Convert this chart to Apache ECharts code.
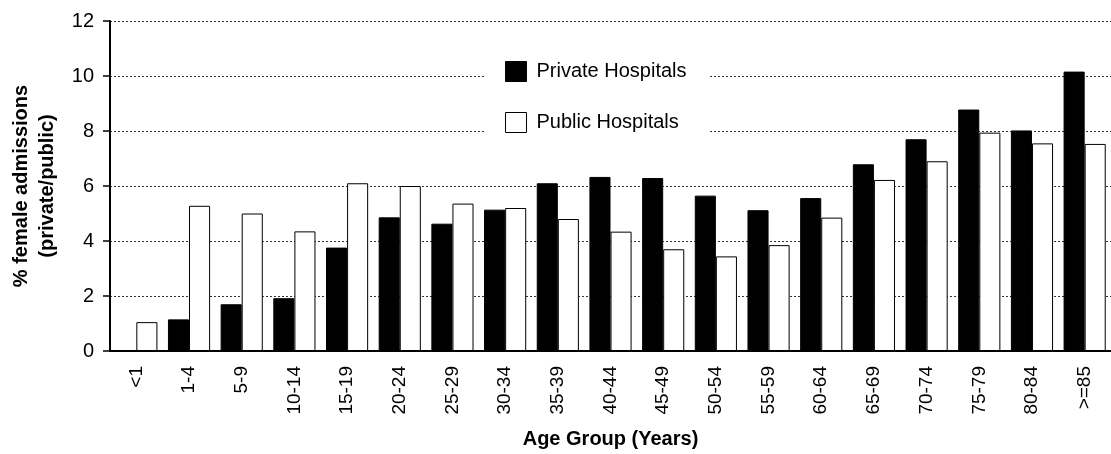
<!DOCTYPE html>
<html>
<head>
<meta charset="utf-8">
<title>Female admissions by age group</title>
<script src="https://cdn.jsdelivr.net/npm/echarts@6/dist/echarts.min.js"></script>
<style>
  html, body { margin: 0; padding: 0; background: #fff; }
  #chart { width: 1111px; height: 454px; }
</style>
</head>
<body>
<div id="chart"></div>
<script>
// 数据
const ageGroups = ['<1', '1-4', '5-9', '10-14', '15-19', '20-24', '25-29', '30-34', '35-39',
  '40-44', '45-49', '50-54', '55-59', '60-64', '65-69', '70-74', '75-79', '80-84', '>=85']
const privateValues = [0, 1.15, 1.7, 1.92, 3.76, 4.86, 4.63, 5.14, 6.1,
  6.33, 6.29, 5.65, 5.12, 5.56, 6.79, 7.7, 8.78, 8.02, 10.16]
const publicValues = [1.05, 5.28, 5.0, 4.35, 6.1, 6.0, 5.36, 5.2, 4.8,
  4.34, 3.7, 3.44, 3.85, 4.85, 6.22, 6.9, 7.94, 7.55, 7.53]
const yTicks = [0, 2, 4, 6, 8, 10, 12]

const font = 'Liberation Sans, Arial, sans-serif'

const chart = echarts.init(document.getElementById('chart'))

chart.setOption({
  animation: false,
  backgroundColor: '#fff',
  textStyle: { fontFamily: font },
  legend: {
    orient: 'vertical',
    left: 486,
    top: 47,
    padding: [14, 22, 14, 19],
    backgroundColor: '#fff',
    itemWidth: 21,
    itemHeight: 20,
    itemGap: 30,
    icon: 'rect',
    textStyle: { fontSize: 20, color: '#000', fontFamily: font, padding: [0, 0, 0, 5] },
    data: [
      { name: 'Private Hospitals', itemStyle: { color: '#000', borderColor: '#000', borderWidth: 1 } },
      { name: 'Public Hospitals', itemStyle: { color: '#fff', borderColor: '#000', borderWidth: 1 } }
    ]
  },
  // 右侧超出画布一点，最后一根柱子被截断
  grid: { left: 108, top: 21, width: 1018, height: 330 },
  xAxis: {
    type: 'category',
    data: ageGroups,
    name: 'Age Group (Years)',
    nameLocation: 'middle',
    nameGap: 78,
    nameTextStyle: { fontSize: 20, fontWeight: 'bold', color: '#000', fontFamily: font },
    axisLine: { lineStyle: { color: '#000', width: 2 } },
    axisTick: { show: false },
    axisLabel: { rotate: 90, fontSize: 19, color: '#000', margin: 15, interval: 0, fontFamily: font }
  },
  yAxis: {
    type: 'value',
    min: yTicks[0],
    max: yTicks[yTicks.length - 1],
    interval: 2,
    name: '% female admissions\n(private/public)',
    nameLocation: 'middle',
    nameGap: 50,
    nameTextStyle: { fontSize: 20, fontWeight: 'bold', color: '#000', lineHeight: 26, fontFamily: font },
    axisLine: { show: true, lineStyle: { color: '#000', width: 2 } },
    axisTick: { show: true, length: 7, lineStyle: { color: '#000', width: 1.5 } },
    axisLabel: { fontSize: 20, color: '#000', margin: 16, fontFamily: font },
    splitLine: { lineStyle: { color: '#333', type: [2, 2], width: 1 } }
  },
  series: [
    {
      name: 'Private Hospitals',
      type: 'bar',
      data: privateValues,
      barGap: '0%',
      barCategoryGap: '20%',
      itemStyle: { color: '#000', borderColor: '#000', borderWidth: 1 }
    },
    {
      name: 'Public Hospitals',
      type: 'bar',
      data: publicValues,
      barGap: '0%',
      barCategoryGap: '20%',
      itemStyle: { color: '#fff', borderColor: '#000', borderWidth: 1 }
    }
  ]
})
</script>
</body>
</html>
